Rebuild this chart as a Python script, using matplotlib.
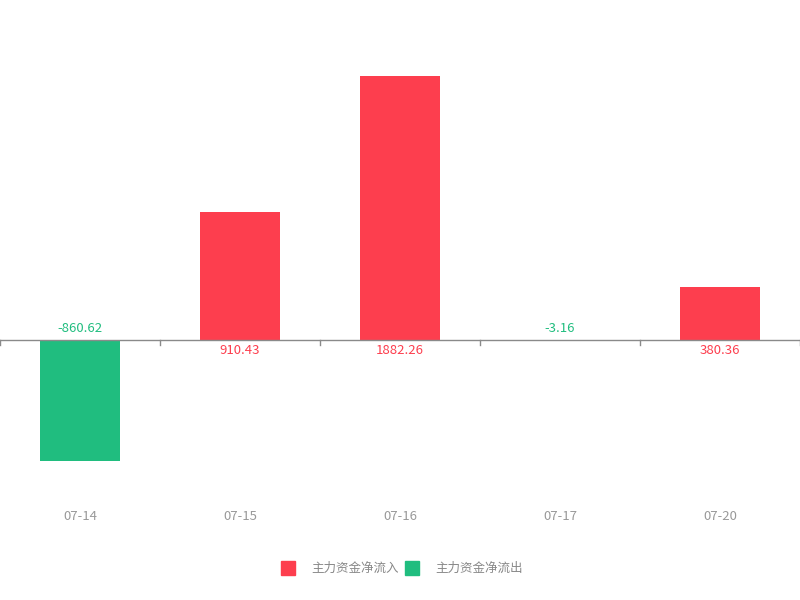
import matplotlib
matplotlib.use("Agg")
import matplotlib.pyplot as plt
from matplotlib.patches import Rectangle

plt.rcParams['font.family'] = ['Noto Sans CJK SC', 'DejaVu Sans']

categories = ['07-14', '07-15', '07-16', '07-17', '07-20']
values = [-860.62, 910.43, 1882.26, -3.16, 380.36]
legend_labels = ['主力资金净流入', '主力资金净流出']

RED = '#FD3E4E'
GREEN = '#20BD7F'
GRAY = '#999999'

W, H = 800, 600
fig = plt.figure(figsize=(W / 100, H / 100), dpi=100)
# axes spans pixel x 0..800, y 40..500 (top..bottom)
ax = fig.add_axes([0, 100 / H, 1, 460 / H])
scale = 264 / 1882.26  # px per unit
ax.set_xlim(-0.5, len(categories) - 0.5)
ax.set_ylim(-160 / scale, 300 / scale)

xs = list(range(len(categories)))
colors = [RED if v >= 0 else GREEN for v in values]
ax.bar(xs, values, width=0.5, color=colors, zorder=2)

ax.axhline(0, color='#8a8a8a', lw=1, zorder=3)
for t in [-0.5, 0.5, 1.5, 2.5, 3.5, 4.5]:
    ax.plot([t, t], [0, -5 / scale], color='#8a8a8a', lw=1, zorder=3, clip_on=False)

for x, v, c in zip(xs, values, colors):
    if v >= 0:
        ax.text(x, -11 / scale, f'{v:.2f}', ha='center', va='center', color=c, fontsize=9.5)
    else:
        ax.text(x, 12 / scale, f'{v:.2f}', ha='center', va='center', color=c, fontsize=9.5)

for x, lab in zip(xs, categories):
    ax.text(x, -176 / scale, lab, ha='center', va='center', color=GRAY, fontsize=9.5, clip_on=False)

for s in ax.spines.values():
    s.set_visible(False)
ax.set_xticks([])
ax.set_yticks([])

# legend
ly = 1 - 568 / H
for px, col, lab in [(281, RED, legend_labels[0]), (405, GREEN, legend_labels[1])]:
    fig.patches.append(Rectangle((px / W, ly - 7 / H), 14 / W, 14 / H, color=col,
                                 transform=fig.transFigure, figure=fig))
    fig.text((px + 30) / W, ly, lab, ha='left', va='center', color='#888888', fontsize=9)

fig.savefig('out.png', dpi=100)
